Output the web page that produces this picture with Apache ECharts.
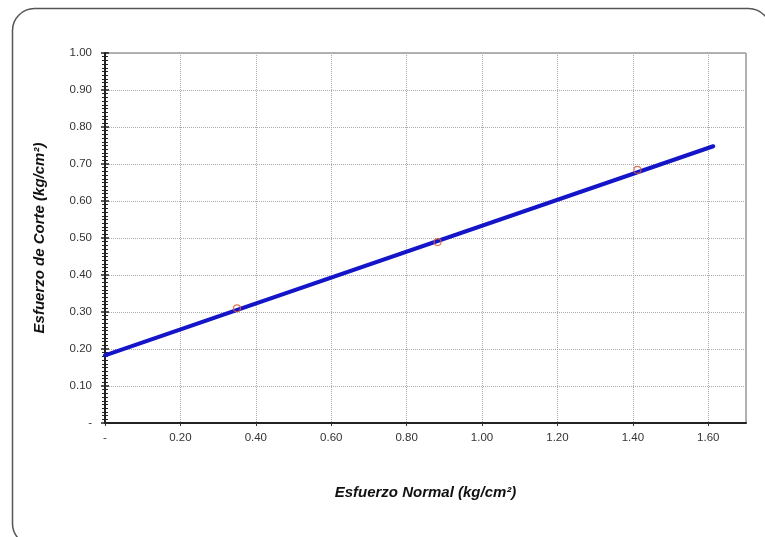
<!DOCTYPE html>
<html>
<head>
<meta charset="utf-8">
<script src="https://cdn.jsdelivr.net/npm/echarts@6/dist/echarts.min.js"></script>
<style>
  html, body { margin: 0; padding: 0; background: #fff; }
  #chart { width: 765px; height: 537px; }
</style>
</head>
<body>
<div id="chart"></div>
<script>
// Direct shear test: measured points and the fitted Mohr-Coulomb envelope
const normalStress = [0.35, 0.882, 1.412];
const shearStress = [0.31, 0.489, 0.684];
const envelopeX = [0, 1.613];
const envelopeY = [0.183, 0.748];
const xTickLabels = ['-', '0.20', '0.40', '0.60', '0.80', '1.00', '1.20', '1.40', '1.60'];
const yTickLabels = ['-', '0.10', '0.20', '0.30', '0.40', '0.50', '0.60', '0.70', '0.80', '0.90', '1.00'];

const fontFamily = '"Liberation Sans", Arial, sans-serif';
const chart = echarts.init(document.getElementById('chart'), null, { renderer: 'canvas' });

const labelStyle = { color: '#333', fontSize: 11.5, fontFamily: fontFamily };
const nameStyle = { color: '#111', fontSize: 15, fontWeight: 'bold', fontStyle: 'italic', fontFamily: fontFamily };

chart.setOption({
  backgroundColor: '#fff',
  animation: false,
  graphic: [{
    type: 'rect',
    shape: { x: 12.5, y: 8.5, width: 758, height: 537, r: 22 },
    style: { fill: 'none', stroke: '#555', lineWidth: 1.5 },
    silent: true,
    z: -10
  }],
  grid: {
    left: 105, top: 53, width: 641, height: 370,
    show: true, borderColor: '#666', borderWidth: 1, backgroundColor: 'transparent'
  },
  xAxis: {
    type: 'value', min: 0, max: 1.7, interval: 0.2,
    name: 'Esfuerzo Normal (kg/cm²)', nameLocation: 'middle', nameGap: 62,
    nameTextStyle: nameStyle,
    axisLine: { show: true, onZero: false, lineStyle: { color: '#222', width: 2 } },
    axisTick: { show: true, length: 3, lineStyle: { color: '#333' } },
    axisLabel: Object.assign({
      margin: 9, showMaxLabel: false,
      formatter: function (v) { return xTickLabels[Math.round(v / 0.2)] || ''; }
    }, labelStyle),
    splitLine: { show: true, lineStyle: { color: '#aaa', type: 'dotted', width: 1 } }
  },
  yAxis: [{
    type: 'value', min: 0, max: 1, interval: 0.1,
    name: 'Esfuerzo de Corte (kg/cm²)', nameLocation: 'middle', nameGap: 58,
    nameRotate: 90, nameTextStyle: nameStyle,
    axisLine: { show: true, onZero: false, lineStyle: { color: '#222', width: 2 } },
    axisTick: { show: true, length: 4, lineStyle: { color: '#222', width: 1.5 } },
    minorTick: { show: true, splitNumber: 10, length: 3, lineStyle: { color: '#222', width: 1 } },
    axisLabel: Object.assign({
      margin: 13,
      formatter: function (v) { return yTickLabels[Math.round(v * 10)] || ''; }
    }, labelStyle),
    splitLine: { show: true, lineStyle: { color: '#aaa', type: 'dotted', width: 1 } }
  }, {
    // inner half of the crossing tick marks on the vertical axis
    type: 'value', min: 0, max: 1, interval: 0.1, position: 'left', offset: 0,
    axisLine: { show: false },
    axisTick: { show: true, inside: true, length: 4, lineStyle: { color: '#222', width: 1.5 } },
    minorTick: { show: true, splitNumber: 10, length: 3, lineStyle: { color: '#222', width: 1 } },
    axisLabel: { show: false },
    splitLine: { show: false }
  }],
  series: [{
    name: 'Envolvente',
    type: 'line',
    data: envelopeX.map(function (x, i) { return [x, envelopeY[i]]; }),
    showSymbol: false, symbol: 'none',
    lineStyle: { color: '#1414c8', width: 4, cap: 'round' },
    z: 2
  }, {
    name: 'Ensayos',
    type: 'scatter',
    data: normalStress.map(function (x, i) { return [x, shearStress[i]]; }),
    symbol: 'circle', symbolSize: 7,
    itemStyle: { color: 'rgba(0,0,0,0)', borderColor: '#d9603a', borderWidth: 1.2, opacity: 0.85 },
    z: 3
  }]
});
</script>
</body>
</html>
